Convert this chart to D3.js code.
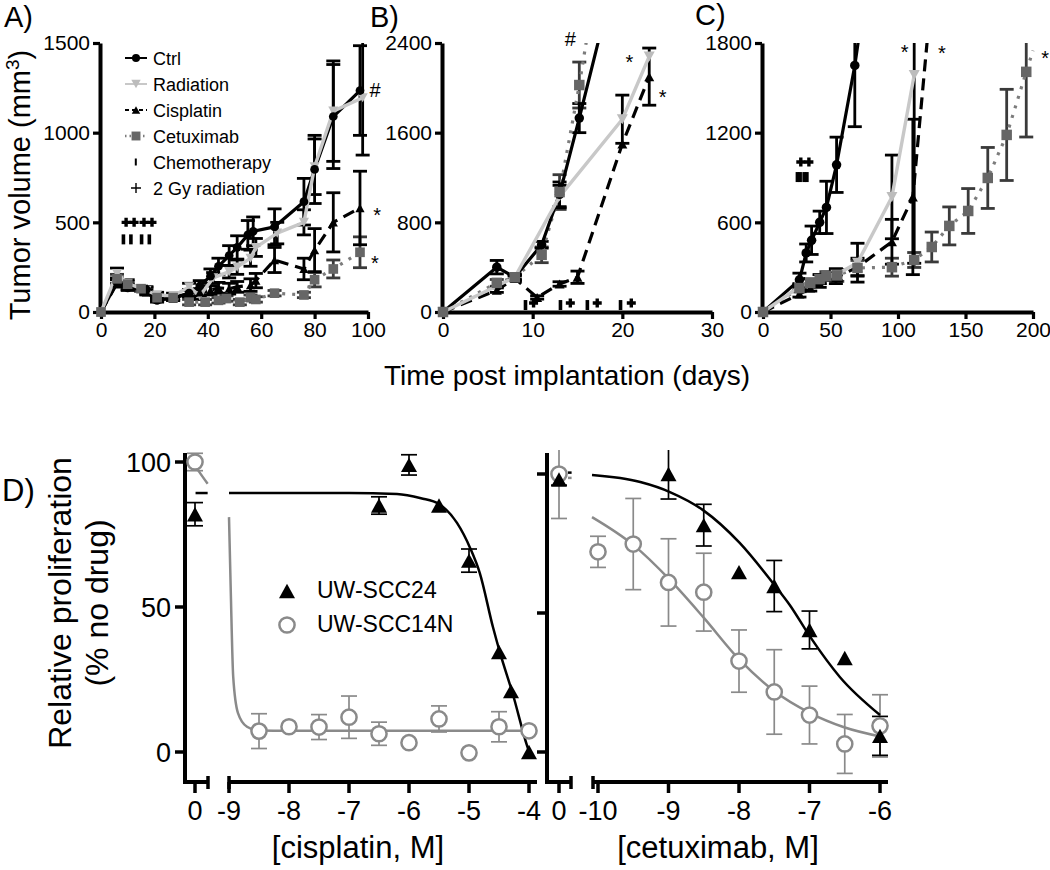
<!DOCTYPE html>
<html><head><meta charset="utf-8">
<script src="https://cdn.jsdelivr.net/npm/d3@7"></script>
<style>body{margin:0;background:#fff}svg{display:block}text{font-family:"Liberation Sans",Arial,Helvetica,sans-serif;fill:#000}</style>
</head><body><svg id="c" width="1050" height="870"></svg>
<script>
// ================= DATA =================
// Panels A-C: [day, mean tumour volume (mm^3), s.e.m.]; sem === null -> line continuation only (no marker)
const aCtrl = [[0,0,0],[6,165,25],[10,135,15],[17,125,15],[21,65,10],[27,80,15],[33,105,20],[37,145,30],[41,200,40],[44,255,45],[48,315,55],[51,360,65],[55,430,80],[57,450,80],[65,475,100],[76,615,130],[80,795,190],[87,1090,290],[97,1235,250]];
const aRad  = [[0,0,0],[6,215,30],[10,160,20],[17,120,20],[21,95,15],[27,90,15],[33,140,20],[37,90,20],[42,190,30],[48,225,35],[51,250,40],[56,300,45],[58,360,50],[66,440,60],[76,500,70],[80,810,155],[87,1120,280],[98,1195,320]];
const aCis  = [[0,0,0],[6,160,20],[10,140,15],[17,110,15],[21,70,10],[27,75,10],[33,105,20],[37,110,20],[41,120,25],[44,135,30],[48,130,30],[51,140,30],[56,150,35],[58,175,40],[65,290,70],[76,240,60],[80,345,120],[87,500,165],[97,580,205]];
const aCet  = [[0,0,0],[6,185,25],[10,155,15],[15,130,15],[21,80,15],[27,80,15],[33,55,15],[39,55,15],[44,65,15],[47,75,15],[52,55,15],[56,80,15],[58,70,15],[65,105,15],[76,95,15],[80,180,40],[87,240,50],[97,333,86]];
const aChemoDays = [8.4,11.2,15.2,18.1];
const aRadDays   = [9.4,12.4,16.1,19.1];

const bCtrl = [[0,0,0],[6,400,60],[8,310,30],[11,600,30],[13,1050,110],[15.2,1730,130],[17.5,2470,null]];
const bRad  = [[0,0,0],[8,310,20],[13,1030,100],[20,1720,215],[23,2280,0]];
const bCis  = [[0,0,0],[6,195,20],[8,300,20],[10.5,130,15],[13,250,20],[15,310,55],[20,1500,0],[23,2100,255]];
const bCet  = [[0,0,0],[6,260,30],[8,310,20],[11,510,70],[13,1070,155],[15.2,2025,205],[16.2,2520,null]];
const bChemoDays = [9.2,13.1,16.1,19.8];
const bRadDays   = [10.1,14.2,17.2,21];

const cCtrl = [[0,0,0],[27,215,45],[32,395,60],[36,480,95],[42,600,75],[47,700,175],[54.5,985,185],[68,1650,410],[72,1900,null]];
const cRad  = [[0,0,0],[27,170,20],[35,200,25],[42,220,30],[54,250,40],[70,330,130],[95.5,770,280],[112,1586,1260]];
const cCis  = [[0,0,0],[27,120,20],[35,160,20],[42,190,25],[54,230,40],[70,300,60],[95.5,470,150],[111,770,520],[122.5,1900,null]];
const cCet  = [[0,0,0],[27,160,25],[35,195,25],[42,220,30],[47,240,30],[55,245,40],[70,295,50],[95.5,300,60],[112,348,50],[125,435,100],[138,576,127],[152,676,150],[166.5,897,204],[180.5,1185,305],[195,1607,436],[200,1750,null]];
const cChemoDays = [25.5,27.5,30.5,32.5];
const cRadDays   = [28,34];

const aXTicks = [0,20,40,60,80,100], aYTicks = [0,500,1000,1500];
const bXTicks = [0,10,20,30],        bYTicks = [0,800,1600,2400];
const cXTicks = [0,50,100,150,200],  cYTicks = [0,600,1200,1800];

// significance marks: [day, volume, symbol]
const aNotes = [[102.6,1239,'#'],[103.4,567,'*'],[102.6,300,'*']];
const bNotes = [[14.2,2435,'#'],[20.8,2275,'*'],[24.5,1962,'*']];
const cNotes = [[105,1774,'*'],[132.6,1767,'*'],[209,1733,'*']];

const legendLabels = ['Ctrl','Radiation','Cisplatin','Cetuximab','Chemotherapy','2 Gy radiation'];

// Panel D: [log10 M, % proliferation, s.e.m.]
const cis24   = [[-6.5,85,3],[-6,99,3.5],[-5.5,85,0],[-5,66,4],[-4.5,34.5,0],[-4.3,21,0],[-4,0,0]];
const cis14N  = [[-8.5,7.2,6],[-8,8.7,0],[-7.5,8.6,4.3],[-7,12,7.3],[-6.5,6.3,4],[-6,3.2,0],[-5.5,11.4,4.5],[-5,-0.3,0],[-4.5,8.7,5.2],[-4,7.3,0]];
const cisZero24 = [[0,82,4]], cisZero14N = [[0,100,3]];
const cisFit24  = [[-9,89.3],[-7,89.3],[-6.2,89],[-5.8,87.5],[-5.5,85.5],[-5.2,79],[-4.98,70.3],[-4.82,61.7],[-4.6,43],[-4.48,34],[-4.27,20],[-4.03,2],[-3.98,-1]];
const cisFit14N = [[-9,81],[-8.97,55],[-8.93,26],[-8.85,13.4],[-8.7,8.7],[-8.5,7.4],[-8,7.3],[-4,7.3]];
const cisZeroFit24 = [[0.05,89.3],[1.15,89.3]], cisZeroFit14N = [[-0.2,100],[0.4,96.5],[1.15,92.5]];

const cet24   = [[-9,100,9],[-8.5,81.6,7.5],[-8,64.7,0],[-7.5,59.7,9.2],[-7,43.9,6.8],[-6.5,33.8,0],[-6,5.8,7]];
const cet14N  = [[-10,72,5.6],[-9.5,74.8,16.4],[-9,61,15.7],[-8.5,57.5,14],[-8,32.7,11.2],[-7.5,21.6,15.2],[-7,13.3,10.4],[-6.5,2.9,10.6],[-6,9.4,11.2]];
const cetZero24 = [[0,98,2]], cetZero14N = [[0,100,16]];
const cetFit24  = [[-10.085,99.6],[-9.4,97.1],[-8.98,93.5],[-8.51,87],[-7.99,75.2],[-7.52,60.8],[-7.28,52.9],[-6.99,41.4],[-6.57,27],[-6.0,13.3]];
const cetFit14N = [[-10.085,84.5],[-9.5,74.5],[-8.98,61.9],[-8.51,48.6],[-7.99,33.1],[-7.52,22.3],[-6.99,14.0],[-6.52,9.0],[-5.96,5.4]];
const cetZeroFit24 = [[0.75,100.5],[1.05,100.5]], cetZeroFit14N = [[0.75,98.6],[1.05,98.6]];

const cisTicks = [-9,-8,-7,-6,-5,-4], cetTicks = [-10,-9,-8,-7,-6], dYTicks = [0,50,100];
const dLegend = ['UW-SCC24','UW-SCC14N'];

// ================= DRAWING =================
const svg = d3.select('#c');
const defs = svg.append('defs');

function markerPath(type, s){
  const h = s*0.9;
  if(type==='triUp') return `M0,${-h/2}L${s/2},${h/2}L${-s/2},${h/2}Z`;
  if(type==='triDown') return `M0,${h/2}L${s/2},${-h/2}L${-s/2},${-h/2}Z`;
  if(type==='square') return `M${-s/2},${-s/2}h${s}v${s}h${-s}Z`;
  const r=s/2; return `M${r},0A${r},${r},0,1,1,${-r},0A${r},${r},0,1,1,${r},0Z`;
}
const styles = {
  ctrl:{stroke:'#000',w:3.2,dash:null,marker:'circle',fill:'#000',size:9.5,err:'#000'},
  rad:{stroke:'#c8c8c8',w:3.4,dash:null,marker:'triDown',fill:'#bcbcbc',size:11,err:'#000'},
  cis:{stroke:'#000',w:3.2,dash:'12,7',marker:'triUp',fill:'#000',size:10,err:'#000'},
  cet:{stroke:'#7c7c7c',w:3.2,dash:'3,7',marker:'square',fill:'#666',size:10.5,err:'#3a3a3a'}
};

const panels = [
  {id:'A',xDom:[0,100],xR:[101,368],yMax:1500,xT:aXTicks,yT:aYTicks,s:{ctrl:aCtrl,rad:aRad,cis:aCis,cet:aCet},chemo:aChemoDays,radT:aRadDays,chemoV:405,radV:500,notes:aNotes,ms:0.92,lab:[4,27]},
  {id:'B',xDom:[0,30],xR:[443,712],yMax:2400,xT:bXTicks,yT:bYTicks,s:{ctrl:bCtrl,rad:bRad,cis:bCis,cet:bCet},chemo:bChemoDays,radT:bRadDays,chemoV:62,radV:80,notes:bNotes,ms:1,lab:[370,27]},
  {id:'C',xDom:[0,200],xR:[763,1033],yMax:1800,xT:cXTicks,yT:cYTicks,s:{ctrl:cCtrl,rad:cRad,cis:cCis,cet:cCet},chemo:cChemoDays,radT:cRadDays,chemoV:903,radV:1004,notes:cNotes,ms:1,lab:[695,25]}
];

panels.forEach(p=>{
  const x = d3.scaleLinear().domain(p.xDom).range(p.xR);
  const y = d3.scaleLinear().domain([0,p.yMax]).range([312,43]);
  const g = svg.append('g');
  g.append('text').attr('x',p.lab[0]).attr('y',p.lab[1]).attr('font-size',29).text(p.id+')');
  defs.append('clipPath').attr('id','clip'+p.id).append('rect')
    .attr('x',p.xR[0]-15).attr('y',y(p.yMax)).attr('width',p.xR[1]-p.xR[0]+40).attr('height',y(0)-y(p.yMax)+25);
  const ax = g.append('g').attr('transform',`translate(0,${y(0)})`)
    .call(d3.axisBottom(x).tickValues(p.xT).tickFormat(d3.format('d')).tickSize(7).tickSizeOuter(0).tickPadding(3));
  const ay = g.append('g').attr('transform',`translate(${x(0)-1},0)`)
    .call(d3.axisLeft(y).tickValues(p.yT).tickFormat(d3.format('d')).tickSize(7).tickSizeOuter(0).tickPadding(3));
  [ax,ay].forEach(a=>{
    a.select('.domain').attr('stroke-width',4).attr('stroke','#000');
    a.selectAll('.tick line').attr('stroke-width',3.2).attr('stroke','#000');
    a.selectAll('.tick text').attr('font-size',21).attr('fill','#000').attr('font-family','"Liberation Sans",Arial,sans-serif');
  });
  const clipG = g.append('g').attr('clip-path',`url(#clip${p.id})`);
  const order = ['cet','cis','ctrl','rad'];
  order.forEach(k=>{
    const st = styles[k];
    p.s[k].filter(d=>d[2]).forEach(d=>{
      const cx = x(d[0]), y1=y(d[1]-d[2]), y2=y(d[1]+d[2]);
      clipG.append('line').attr('x1',cx).attr('x2',cx).attr('y1',y1).attr('y2',y2).attr('stroke',st.err).attr('stroke-width',2.8);
      [y1,y2].forEach(yy=>clipG.append('line').attr('x1',cx-7).attr('x2',cx+7).attr('y1',yy).attr('y2',yy).attr('stroke',st.err).attr('stroke-width',2.8));
    });
  });
  order.forEach(k=>{
    const st = styles[k];
    clipG.append('path').attr('d',d3.line().x(d=>x(d[0])).y(d=>y(d[1]))(p.s[k]))
      .attr('fill','none').attr('stroke',st.stroke).attr('stroke-width',st.w)
      .attr('stroke-dasharray',st.dash).attr('stroke-linejoin','round');
  });
  ['rad','ctrl','cis','cet'].forEach(k=>{
    const st = styles[k];
    g.selectAll(null).data(p.s[k].filter(d=>d[2]!==null)).join('path')
      .attr('transform',d=>`translate(${x(d[0])},${y(d[1])})`)
      .attr('d',markerPath(st.marker,st.size*p.ms)).attr('fill',st.fill);
  });
  p.chemo.forEach(d=>g.append('rect').attr('x',x(d)-1.8).attr('y',y(p.chemoV)-5).attr('width',3.6).attr('height',10).attr('fill','#000'));
  p.radT.forEach(d=>g.append('path').attr('d',`M${x(d)-4.5},${y(p.radV)}h9M${x(d)},${y(p.radV)-4.5}v9`).attr('stroke','#000').attr('stroke-width',3.4));
  p.notes.forEach(n=>g.append('text').attr('x',x(n[0])).attr('y',y(n[1])+(n[2]==='*'?12:7)).attr('text-anchor','middle').attr('font-size',20).text(n[2]));
});

// legend A
const legRows = [58,84,110,136,162,188];
['ctrl','rad','cis','cet'].forEach((k,i)=>{
  const st = styles[k];
  svg.append('line').attr('x1',125).attr('x2',147).attr('y1',legRows[i]).attr('y2',legRows[i])
    .attr('stroke',st.stroke).attr('stroke-width',k==='cet'?2.5:2).attr('stroke-dasharray',k==='cis'?'4,3':(k==='cet'?'1.5,3':null));
  svg.append('path').attr('transform',`translate(136,${legRows[i]})`).attr('d',markerPath(st.marker,st.size*0.85)).attr('fill',st.fill);
});
svg.append('rect').attr('x',134.8).attr('y',legRows[4]-3.5).attr('width',2).attr('height',7).attr('fill','#000');
svg.append('path').attr('d',`M131,${legRows[5]}h10M136,${legRows[5]-5}v10`).attr('stroke','#000').attr('stroke-width',1.4);
legendLabels.forEach((t,i)=>svg.append('text').attr('x',153).attr('y',legRows[i]+7).attr('font-size',18).text(t));

// top titles
const yt = svg.append('text').attr('transform','translate(30,185) rotate(-90)').attr('text-anchor','middle').attr('font-size',29);
yt.append('tspan').text('Tumor volume (mm');
yt.append('tspan').attr('font-size',19).attr('dy',-11).text('3');
yt.append('tspan').attr('dy',11).text(')');
svg.append('text').attr('x',567).attr('y',385).attr('text-anchor','middle').attr('font-size',28).text('Time post implantation (days)');

// ================= PANEL D =================
svg.append('text').attr('x',2).attr('y',501).attr('font-size',31).text('D)');
const yCis = d3.scaleLinear().domain([0,100]).range([752,462]);
const yCet = d3.scaleLinear().domain([0,100]).range([752,474]);
const xCis = d3.scaleLinear().domain([-9,-4]).range([229,529]);
const xCisZ = d3.scaleLinear().domain([-1,1]).range([184,206]);
const xCet = d3.scaleLinear().domain([-10,-6]).range([598,880]);
const xCetZ = d3.scaleLinear().domain([-1,1]).range([547,571]);
const GRAY = '#8a8a8a';
const BASE = 782;

function dAxis(axX, zeroSeg, mainSeg, xMain, xZero, ticks, y, labels){
  const g = svg.append('g');
  g.append('line').attr('x1',axX).attr('x2',axX).attr('y1',453).attr('y2',BASE+2).attr('stroke','#000').attr('stroke-width',4);
  dYTicks.forEach(v=>{
    g.append('line').attr('x1',axX-10).attr('x2',axX).attr('y1',y(v)).attr('y2',y(v)).attr('stroke','#000').attr('stroke-width',3.5);
    if(labels) g.append('text').attr('x',axX-14).attr('y',y(v)+10).attr('text-anchor','end').attr('font-size',27).text(v);
  });
  [zeroSeg, mainSeg].forEach(s=>g.append('line').attr('x1',s[0]).attr('x2',s[1]).attr('y1',BASE).attr('y2',BASE).attr('stroke','#000').attr('stroke-width',4));
  [zeroSeg[1], mainSeg[0]].forEach(px=>g.append('line').attr('x1',px).attr('x2',px).attr('y1',BASE-6).attr('y2',BASE+7).attr('stroke','#000').attr('stroke-width',3.5));
  const tk = [{px:xZero(0),t:'0'}].concat(ticks.map(v=>({px:xMain(v),t:String(v)})));
  tk.forEach(o=>{
    g.append('line').attr('x1',o.px).attr('x2',o.px).attr('y1',BASE).attr('y2',BASE+11).attr('stroke','#000').attr('stroke-width',3.5);
    g.append('text').attr('x',o.px).attr('y',BASE+38).attr('text-anchor','middle').attr('font-size',27).text(o.t);
  });
}
dAxis(185,[185,208],[229,537],xCis,xCisZ,cisTicks,yCis,true);
dAxis(547,[547,571],[593,888],xCet,xCetZ,cetTicks,yCet,false);

defs.append('clipPath').attr('id','clipD').append('rect').attr('x',150).attr('y',450).attr('width',760).attr('height',340);
const dG = svg.append('g').attr('clip-path','url(#clipD)');

function errBars(data, xs, y, color){
  data.filter(d=>d[2]).forEach(d=>{
    const cx=xs(d[0]), y1=y(d[1]-d[2]), y2=y(d[1]+d[2]);
    dG.append('line').attr('x1',cx).attr('x2',cx).attr('y1',y1).attr('y2',y2).attr('stroke',color).attr('stroke-width',1.7);
    [y1,y2].forEach(yy=>dG.append('line').attr('x1',cx-8).attr('x2',cx+8).attr('y1',yy).attr('y2',yy).attr('stroke',color).attr('stroke-width',1.7));
  });
}
function fit(data, xs, y, color){
  dG.append('path').attr('d',d3.line().curve(d3.curveMonotoneX).x(d=>xs(d[0])).y(d=>y(d[1]))(data))
    .attr('fill','none').attr('stroke',color).attr('stroke-width',2.5);
}
const triPath = markerPath('triUp',16);
function tris(data, xs, y){ data.forEach(d=>dG.append('path').attr('transform',`translate(${xs(d[0])},${y(d[1])})`).attr('d',triPath).attr('fill','#000')); }
function circs(data, xs, y){ data.forEach(d=>dG.append('circle').attr('cx',xs(d[0])).attr('cy',y(d[1])).attr('r',7.6).attr('fill','#fff').attr('stroke',GRAY).attr('stroke-width',2.5)); }

errBars(cis14N,xCis,yCis,GRAY); errBars(cisZero14N,xCisZ,yCis,GRAY);
errBars(cis24,xCis,yCis,'#000'); errBars(cisZero24,xCisZ,yCis,'#000');
fit(cisFit14N,xCis,yCis,GRAY); fit(cisZeroFit14N,xCisZ,yCis,GRAY);
fit(cisFit24,xCis,yCis,'#000'); fit(cisZeroFit24,xCisZ,yCis,'#000');
circs(cis14N,xCis,yCis); circs(cisZero14N,xCisZ,yCis);
tris(cis24,xCis,yCis); tris(cisZero24,xCisZ,yCis);

errBars(cet14N,xCet,yCet,GRAY); errBars(cetZero14N,xCetZ,yCet,GRAY);
errBars(cet24,xCet,yCet,'#000'); errBars(cetZero24,xCetZ,yCet,'#000');
fit(cetFit14N,xCet,yCet,GRAY); fit(cetZeroFit14N,xCetZ,yCet,GRAY);
fit(cetFit24,xCet,yCet,'#000'); fit(cetZeroFit24,xCetZ,yCet,'#000');
circs(cet14N,xCet,yCet); circs(cetZero14N,xCetZ,yCet);
tris(cet24,xCet,yCet); tris(cetZero24,xCetZ,yCet);

svg.append('path').attr('transform','translate(287,591)').attr('d',triPath).attr('fill','#000');
svg.append('circle').attr('cx',287).attr('cy',625).attr('r',7.6).attr('fill','#fff').attr('stroke',GRAY).attr('stroke-width',2.5);
dLegend.forEach((t,i)=>svg.append('text').attr('x',317).attr('y',598+i*34).attr('font-size',23).text(t));

svg.append('text').attr('transform','translate(71,603) rotate(-90)').attr('text-anchor','middle').attr('font-size',32).text('Relative proliferation');
svg.append('text').attr('transform','translate(108,603) rotate(-90)').attr('text-anchor','middle').attr('font-size',32).text('(% no drug)');
svg.append('text').attr('x',358).attr('y',858).attr('text-anchor','middle').attr('font-size',31).text('[cisplatin, M]');
svg.append('text').attr('x',718).attr('y',858).attr('text-anchor','middle').attr('font-size',31).text('[cetuximab, M]');
</script></body></html>
